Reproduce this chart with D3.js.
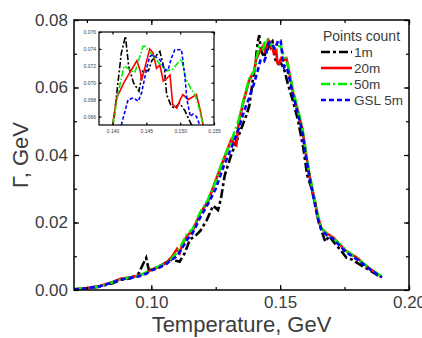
<!DOCTYPE html>
<html>
<head>
<meta charset="utf-8">
<script src="https://cdn.jsdelivr.net/npm/d3@7"></script>
<style>
  body { margin: 0; background: #fff; }
  svg { font-family: "Liberation Sans", Arial, sans-serif; }
</style>
</head>
<body>
<div id="chart"></div>
<script>
// temperature (GeV), width Gamma (GeV)
const series1m = [
  [0.070, 0.0001], [0.075, 0.0005], [0.080, 0.0010], [0.085, 0.0020], [0.088, 0.0030],
  [0.092, 0.0035], [0.095, 0.0048], [0.097, 0.0080], [0.098, 0.0095], [0.099, 0.0060],
  [0.102, 0.0066], [0.105, 0.0078], [0.107, 0.0090], [0.109, 0.0088], [0.111, 0.0084],
  [0.113, 0.0110], [0.115, 0.0150], [0.117, 0.0160], [0.119, 0.0175], [0.1215, 0.0207],
  [0.124, 0.0250], [0.1259, 0.0237], [0.127, 0.0270], [0.1285, 0.0340], [0.131, 0.0400],
  [0.133, 0.0440], [0.135, 0.0480], [0.137, 0.0520], [0.138, 0.0545], [0.139, 0.0600],
  [0.1395, 0.0630], [0.1402, 0.0656], [0.1408, 0.0700], [0.1413, 0.0735], [0.1419, 0.0755],
  [0.1424, 0.0719], [0.1431, 0.0700], [0.1439, 0.0690], [0.1445, 0.0715], [0.1453, 0.0714],
  [0.1458, 0.0726], [0.1470, 0.0737], [0.1477, 0.0714], [0.1480, 0.0686], [0.1487, 0.0672],
  [0.1492, 0.0670], [0.1499, 0.0676], [0.1507, 0.0667], [0.1512, 0.0658], [0.1517, 0.0650],
  [0.153, 0.0610], [0.155, 0.0560], [0.157, 0.0500], [0.159, 0.0420], [0.1605, 0.0340],
  [0.162, 0.0306], [0.1635, 0.0260], [0.165, 0.0200], [0.1675, 0.0143], [0.169, 0.0160],
  [0.171, 0.0140], [0.1735, 0.0118], [0.1758, 0.0095], [0.178, 0.0090], [0.181, 0.0075],
  [0.184, 0.0062], [0.187, 0.0048], [0.189, 0.0038]
];
const series20m = [
  [0.070, 0.0002], [0.075, 0.0006], [0.080, 0.0012], [0.085, 0.0024], [0.088, 0.0033],
  [0.092, 0.0038], [0.095, 0.0043], [0.098, 0.0050], [0.100, 0.0060], [0.103, 0.0068],
  [0.106, 0.0082], [0.108, 0.0098], [0.110, 0.0122], [0.111, 0.0110], [0.112, 0.0135],
  [0.114, 0.0162], [0.116, 0.0175], [0.119, 0.0228], [0.122, 0.0262], [0.125, 0.0325],
  [0.128, 0.0385], [0.131, 0.0445], [0.133, 0.0430], [0.134, 0.0500], [0.136, 0.0565],
  [0.138, 0.0622], [0.1400, 0.0650], [0.1406, 0.0682], [0.1418, 0.0702], [0.1436, 0.0726],
  [0.1441, 0.0714], [0.1443, 0.0703], [0.1455, 0.0740], [0.1460, 0.0735], [0.1465, 0.0717],
  [0.1470, 0.0721], [0.1475, 0.0702], [0.1480, 0.0705], [0.1485, 0.0709], [0.1489, 0.0674],
  [0.1495, 0.0670], [0.1500, 0.0680], [0.1504, 0.0686], [0.1512, 0.0680], [0.1524, 0.0686],
  [0.1529, 0.0670], [0.1534, 0.0650], [0.155, 0.0585], [0.157, 0.0525], [0.1585, 0.0480],
  [0.160, 0.0405], [0.1615, 0.0335], [0.163, 0.0280], [0.1645, 0.0222], [0.166, 0.0182],
  [0.168, 0.0168], [0.1707, 0.0155], [0.173, 0.0136], [0.1755, 0.0116], [0.178, 0.0104],
  [0.180, 0.0095], [0.182, 0.0080], [0.185, 0.0062], [0.1875, 0.0049], [0.1895, 0.0038]
];
const series50m = [
  [0.070, 0.0002], [0.075, 0.0006], [0.080, 0.0011], [0.085, 0.0023], [0.088, 0.0032],
  [0.092, 0.0037], [0.095, 0.0042], [0.098, 0.0052], [0.100, 0.0061], [0.103, 0.0070],
  [0.106, 0.0080], [0.108, 0.0094], [0.110, 0.0112], [0.112, 0.0138], [0.114, 0.0168],
  [0.116, 0.0180], [0.119, 0.0230], [0.122, 0.0268], [0.125, 0.0322], [0.128, 0.0390],
  [0.131, 0.0440], [0.134, 0.0505], [0.136, 0.0570], [0.138, 0.0625], [0.1400, 0.0650],
  [0.1409, 0.0690], [0.1417, 0.0720], [0.1426, 0.0715], [0.1433, 0.0712], [0.1445, 0.0743],
  [0.1448, 0.0743], [0.1460, 0.0731], [0.1470, 0.0722], [0.1480, 0.0714], [0.1489, 0.0716],
  [0.1496, 0.0723], [0.1502, 0.0728], [0.1508, 0.0706], [0.1515, 0.0694], [0.1522, 0.0686],
  [0.1529, 0.0667], [0.1534, 0.0650], [0.155, 0.0592], [0.157, 0.0530], [0.1585, 0.0485],
  [0.160, 0.0410], [0.1615, 0.0340], [0.163, 0.0282], [0.1645, 0.0225], [0.166, 0.0185],
  [0.168, 0.0166], [0.1707, 0.0153], [0.173, 0.0137], [0.1755, 0.0118], [0.178, 0.0103],
  [0.180, 0.0094], [0.182, 0.0081], [0.185, 0.0063], [0.1875, 0.0050], [0.1895, 0.0039]
];
const seriesGsl = [
  [0.070, 0.0002], [0.075, 0.0005], [0.080, 0.0011], [0.085, 0.0022], [0.088, 0.0031],
  [0.092, 0.0036], [0.095, 0.0040], [0.098, 0.0048], [0.100, 0.0058], [0.103, 0.0066],
  [0.106, 0.0078], [0.108, 0.0090], [0.110, 0.0100], [0.112, 0.0125], [0.114, 0.0150],
  [0.116, 0.0168], [0.119, 0.0215], [0.122, 0.0255], [0.125, 0.0300], [0.128, 0.0365],
  [0.131, 0.0420], [0.134, 0.0480], [0.136, 0.0530], [0.138, 0.0570], [0.140, 0.0615],
  [0.1413, 0.0650], [0.1423, 0.0680], [0.1431, 0.0682], [0.1438, 0.0678], [0.1443, 0.0688],
  [0.1451, 0.0719], [0.1455, 0.0731], [0.1460, 0.0733], [0.1470, 0.0727], [0.1478, 0.0715],
  [0.1482, 0.0715], [0.1487, 0.0729], [0.1492, 0.0739], [0.1502, 0.0739], [0.1507, 0.0707],
  [0.1510, 0.0680], [0.1515, 0.0660], [0.1519, 0.0663], [0.1524, 0.0660], [0.1529, 0.0650],
  [0.155, 0.0578], [0.157, 0.0518], [0.1585, 0.0472], [0.160, 0.0395], [0.1615, 0.0330],
  [0.163, 0.0272], [0.1645, 0.0215], [0.166, 0.0178], [0.168, 0.0163], [0.1707, 0.0150],
  [0.173, 0.0132], [0.1755, 0.0112], [0.178, 0.0100], [0.180, 0.0090], [0.182, 0.0078],
  [0.185, 0.0060], [0.1875, 0.0047], [0.1895, 0.0037]
];

const legendNames = ["1m", "20m", "50m", "GSL 5m"];
const xTicks = [0.10, 0.15, 0.20];
const yTicks = [0.00, 0.02, 0.04, 0.06, 0.08];
const insetXTicks = [0.140, 0.145, 0.150, 0.155];
const insetYTicks = [0.066, 0.068, 0.070, 0.072, 0.074, 0.076];

const styles = [
  { color: "#000000", dash: "9,3,3,3" },
  { color: "#ff0000", dash: null },
  { color: "#00ee00", dash: "9,3,2,3" },
  { color: "#0000ff", dash: "5,3" }
];
const allSeries = [series1m, series20m, series50m, seriesGsl];

const W = 422, H = 338;
const margin = { top: 20, right: 13, bottom: 48, left: 74 };
const width = W - margin.left - margin.right;
const height = H - margin.top - margin.bottom;
const textColor = "#3c3c3c";

const svg = d3.select("#chart").append("svg")
  .attr("width", W).attr("height", H);

const x = d3.scaleLinear().domain([0.07, 0.20]).range([0, width]);
const y = d3.scaleLinear().domain([0, 0.08]).range([height, 0]);

const g = svg.append("g").attr("transform", `translate(${margin.left},${margin.top})`);

g.append("clipPath").attr("id", "plotClip")
  .append("rect").attr("width", width).attr("height", height);

const line = d3.line().x(d => x(d[0])).y(d => y(d[1]));

const curves = g.append("g").attr("clip-path", "url(#plotClip)");
allSeries.forEach((s, i) => {
  curves.append("path")
    .datum(s)
    .attr("fill", "none")
    .attr("stroke", styles[i].color)
    .attr("stroke-width", 2.6)
    .attr("stroke-dasharray", styles[i].dash)
    .attr("d", line);
});

// frame with inward ticks on all four sides
function styleAxis(sel, fontSize) {
  sel.select(".domain").remove();
  sel.selectAll("line").attr("stroke", "#000").attr("stroke-width", 1.2);
  sel.selectAll("text").attr("fill", textColor).style("font-size", fontSize);
}

const xMinor = d3.range(0.075, 0.2001, 0.025);
const yMinor = d3.range(0.01, 0.0801, 0.01);

g.append("g").attr("transform", `translate(0,${height})`)
  .call(d3.axisBottom(x).tickValues(xMinor).tickSize(-3).tickFormat(""))
  .call(s => styleAxis(s, "0px"));
g.append("g").attr("transform", `translate(0,${height})`)
  .call(d3.axisBottom(x).tickValues(xTicks).tickSize(-5).tickPadding(6).tickFormat(d3.format(".2f")))
  .call(s => styleAxis(s, "17px"));
g.append("g")
  .call(d3.axisTop(x).tickValues(xMinor).tickSize(-3).tickFormat(""))
  .call(s => styleAxis(s, "0px"));
g.append("g")
  .call(d3.axisTop(x).tickValues(xTicks).tickSize(-5).tickFormat(""))
  .call(s => styleAxis(s, "0px"));

g.append("g")
  .call(d3.axisLeft(y).tickValues(yMinor).tickSize(-3).tickFormat(""))
  .call(s => styleAxis(s, "0px"));
g.append("g")
  .call(d3.axisLeft(y).tickValues(yTicks).tickSize(-5).tickPadding(6).tickFormat(d3.format(".2f")))
  .call(s => styleAxis(s, "17px"));
g.append("g").attr("transform", `translate(${width},0)`)
  .call(d3.axisRight(y).tickValues(yMinor).tickSize(-3).tickFormat(""))
  .call(s => styleAxis(s, "0px"));
g.append("g").attr("transform", `translate(${width},0)`)
  .call(d3.axisRight(y).tickValues(yTicks).tickSize(-5).tickFormat(""))
  .call(s => styleAxis(s, "0px"));

g.append("rect")
  .attr("width", width).attr("height", height)
  .attr("fill", "none").attr("stroke", "#000").attr("stroke-width", 1.5);

// axis titles
svg.append("text")
  .attr("x", margin.left + x(0.135)).attr("y", 332)
  .attr("text-anchor", "middle")
  .attr("fill", textColor)
  .style("font-size", "22px")
  .text("Temperature, GeV");

svg.append("text")
  .attr("transform", `translate(28,${margin.top + height / 2}) rotate(-90)`)
  .attr("text-anchor", "middle")
  .attr("fill", textColor)
  .style("font-size", "22px")
  .text("Γ, GeV");

// legend
const legend = svg.append("g");
legend.append("text")
  .attr("x", 323).attr("y", 41)
  .attr("fill", textColor)
  .style("font-size", "14px")
  .text("Points count");
legendNames.forEach((name, i) => {
  const ly = 57 + i * 16;
  legend.append("line")
    .attr("x1", 321).attr("x2", 352)
    .attr("y1", ly - 5).attr("y2", ly - 5)
    .attr("stroke", styles[i].color)
    .attr("stroke-width", 2.6)
    .attr("stroke-dasharray", styles[i].dash);
  legend.append("text")
    .attr("x", 354).attr("y", ly)
    .attr("fill", textColor)
    .style("font-size", "13.5px")
    .text(name);
});

// inset zoom on the peak
const inset = { left: 99, top: 32, width: 115, height: 93 };
const ix = d3.scaleLinear().domain([0.138, 0.155]).range([0, inset.width]);
const iy = d3.scaleLinear().domain([0.065, 0.076]).range([inset.height, 0]);
const ig = svg.append("g").attr("transform", `translate(${inset.left},${inset.top})`);

ig.append("rect").attr("width", inset.width).attr("height", inset.height).attr("fill", "#fff");
ig.append("clipPath").attr("id", "insetClip")
  .append("rect").attr("width", inset.width).attr("height", inset.height);

const iline = d3.line().x(d => ix(d[0])).y(d => iy(d[1]));
const icurves = ig.append("g").attr("clip-path", "url(#insetClip)");
allSeries.forEach((s, i) => {
  icurves.append("path")
    .datum(s)
    .attr("fill", "none")
    .attr("stroke", styles[i].color)
    .attr("stroke-width", 1.6)
    .attr("stroke-dasharray", styles[i].dash ? styles[i].dash.split(",").map(v => v * 0.7).join(",") : null)
    .attr("d", iline);
});

ig.append("g").attr("transform", `translate(0,${inset.height})`)
  .call(d3.axisBottom(ix).tickValues(insetXTicks).tickSize(-2.5).tickPadding(4).tickFormat(d3.format(".3f")))
  .call(s => styleAxis(s, "5px"));
ig.append("g")
  .call(d3.axisTop(ix).tickValues(insetXTicks).tickSize(-2.5).tickFormat(""))
  .call(s => styleAxis(s, "0px"));
ig.append("g")
  .call(d3.axisLeft(iy).tickValues(insetYTicks).tickSize(-2.5).tickPadding(3).tickFormat(d3.format(".3f")))
  .call(s => styleAxis(s, "5px"));
ig.append("g").attr("transform", `translate(${inset.width},0)`)
  .call(d3.axisRight(iy).tickValues(insetYTicks).tickSize(-2.5).tickFormat(""))
  .call(s => styleAxis(s, "0px"));
ig.append("rect")
  .attr("width", inset.width).attr("height", inset.height)
  .attr("fill", "none").attr("stroke", "#000").attr("stroke-width", 1.2);
</script>
</body>
</html>
